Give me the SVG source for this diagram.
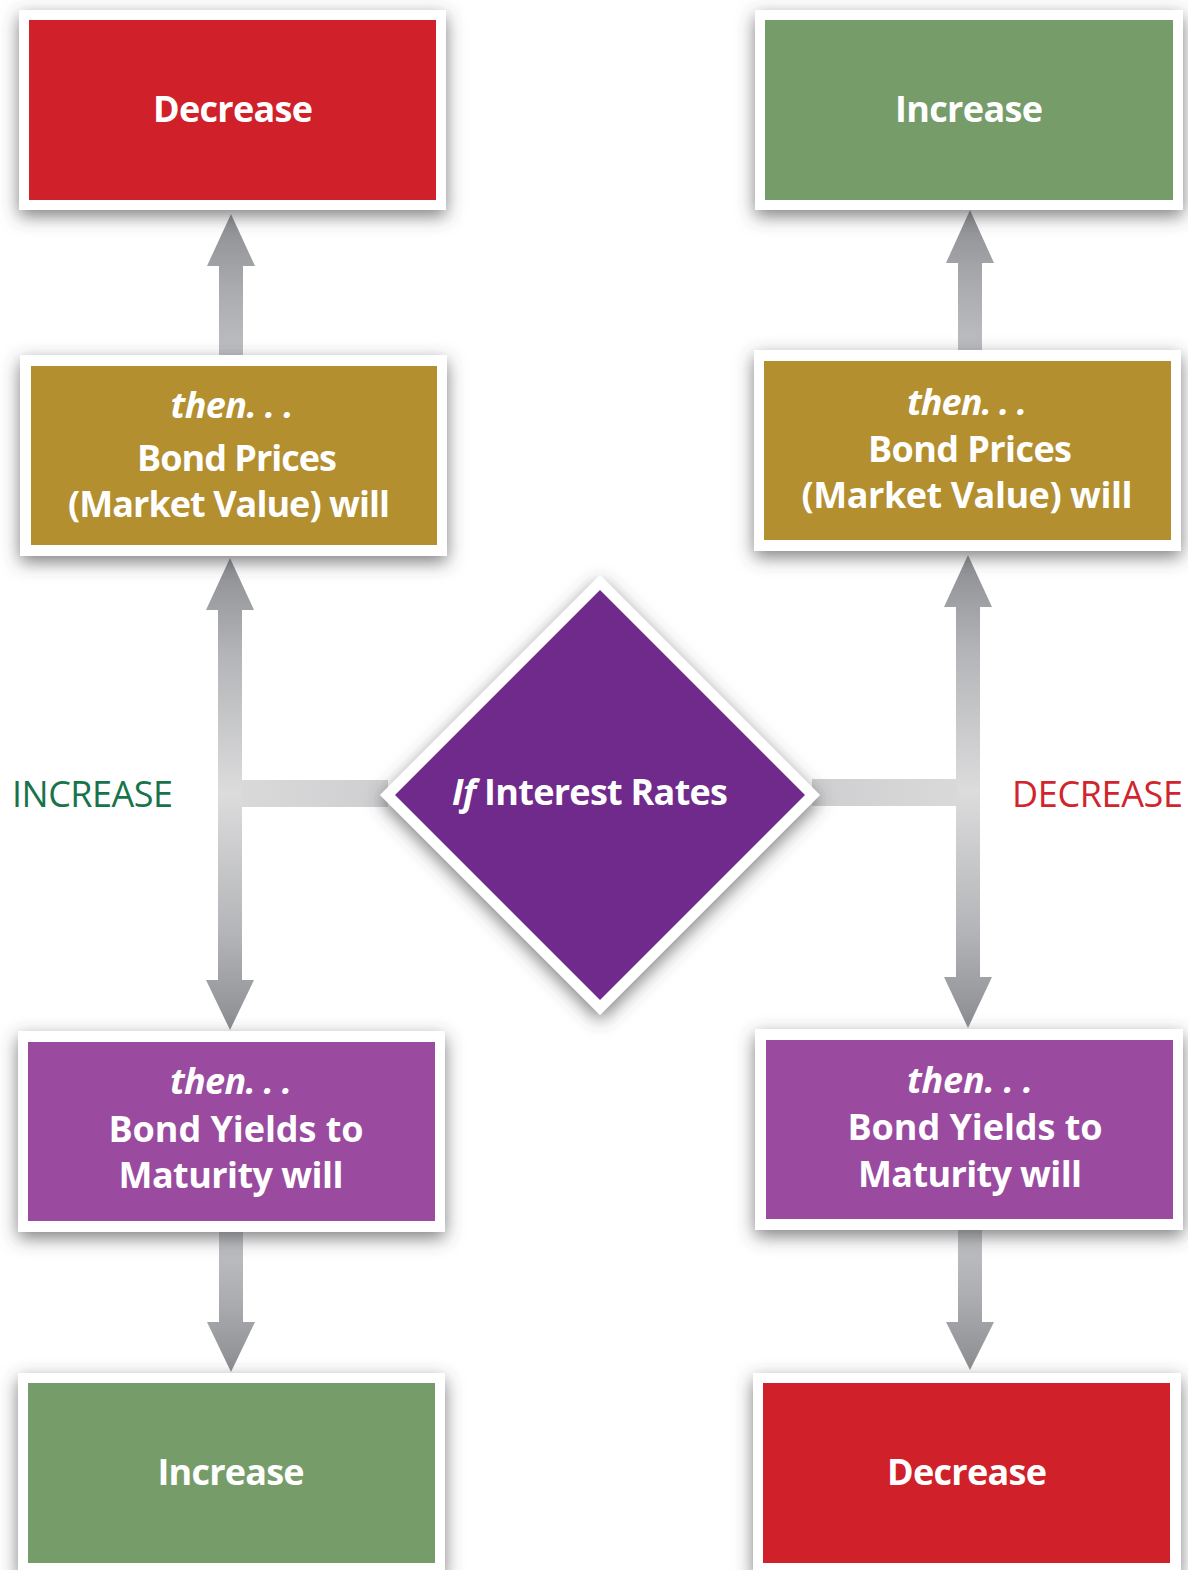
<svg xmlns="http://www.w3.org/2000/svg" width="1188" height="1570" viewBox="0 0 1188 1570">
<defs>
  <filter id="sh" x="-20%" y="-30%" width="140%" height="160%">
    <feDropShadow dx="0" dy="6" stdDeviation="9" flood-color="#45454a" flood-opacity="0.7"/>
  </filter>
  <linearGradient id="gUp" x1="0" y1="0" x2="0" y2="1">
    <stop offset="0" stop-color="#8c8d91"/>
    <stop offset="0.5" stop-color="#a9aaad"/>
    <stop offset="1" stop-color="#bfc0c3"/>
  </linearGradient>
  <linearGradient id="gDown" x1="0" y1="0" x2="0" y2="1">
    <stop offset="0" stop-color="#c3c4c6"/>
    <stop offset="0.5" stop-color="#acadb0"/>
    <stop offset="1" stop-color="#8c8d91"/>
  </linearGradient>
  <linearGradient id="gBoth" x1="0" y1="0" x2="0" y2="1">
    <stop offset="0" stop-color="#8c8d91"/>
    <stop offset="0.2" stop-color="#b3b4b7"/>
    <stop offset="0.5" stop-color="#dcdcdd"/>
    <stop offset="0.8" stop-color="#b3b4b7"/>
    <stop offset="1" stop-color="#8c8d91"/>
  </linearGradient>
  <linearGradient id="gBarL" x1="0" y1="0" x2="1" y2="0">
    <stop offset="0" stop-color="#d9d9da"/>
    <stop offset="1" stop-color="#cfcfd1"/>
  </linearGradient>
  <linearGradient id="gBarR" x1="0" y1="0" x2="1" y2="0">
    <stop offset="0" stop-color="#cfcfd1"/>
    <stop offset="1" stop-color="#d9d9da"/>
  </linearGradient>
</defs>
<style>
  .frame { fill: #ffffff; filter: url(#sh); }
  .red { fill: #d0202a; }
  .green { fill: #769d69; }
  .gold { fill: #b38f30; }
  .purple { fill: #9a4b9f; }
  .diamond { fill: #6f2a8c; }
  .t { font-family: "Open Sans", "Noto Sans", "Liberation Sans", sans-serif; font-weight: 700; fill: #ffffff; text-anchor: middle; font-size: 36px; }
  .it { font-style: italic; }
  .lbl { font-family: "Open Sans", "Noto Sans", "Liberation Sans", sans-serif; font-weight: 400; font-size: 36px; }
</style>
<rect width="1188" height="1570" fill="#ffffff"/>

<g id="connectors">
  <polygon fill="url(#gUp)" points="231,214 255,266 243,266 243,358 219,358 219,266 207,266"/>
  <polygon fill="url(#gBoth)" points="230,558 254,610 242,610 242,980 254,980 230,1030 206,980 218,980 218,610 206,610"/>
  <rect x="242" y="780" width="146" height="27" fill="url(#gBarL)"/>
  <polygon fill="url(#gDown)" points="219,1228 243,1228 243,1322 255,1322 231,1372 207,1322 219,1322"/>
  <polygon fill="url(#gUp)" points="970,210 994,263 982,263 982,353 958,353 958,263 946,263"/>
  <polygon fill="url(#gBoth)" points="968,555 992,607 980,607 980,977 992,977 968,1028 944,977 956,977 956,607 944,607"/>
  <rect x="812" y="779" width="145" height="27" fill="url(#gBarR)"/>
  <polygon fill="url(#gDown)" points="958,1226 982,1226 982,1322 994,1322 970,1370 946,1322 958,1322"/>
</g>

<g id="tl-decrease">
  <rect class="frame" x="19" y="10" width="427" height="200"/>
  <rect class="red" x="29" y="20" width="407" height="180"/>
  <text class="t" x="233" y="122" textLength="160">Decrease</text>
</g>

<g id="tr-increase">
  <rect class="frame" x="755" y="10" width="428" height="200"/>
  <rect class="green" x="765" y="20" width="408" height="180"/>
  <text class="t" x="969" y="122" textLength="148">Increase</text>
</g>

<g id="l-bond-prices">
  <rect class="frame" x="20" y="355" width="427" height="201"/>
  <rect class="gold" x="31" y="366" width="406" height="179"/>
  <text class="t it" x="232" y="418" textLength="123">then. . .</text>
  <text class="t" x="237" y="471" textLength="200">Bond Prices</text>
  <text class="t" x="229" y="517" textLength="322">(Market Value) will</text>
</g>

<g id="r-bond-prices">
  <rect class="frame" x="754" y="350" width="427" height="201"/>
  <rect class="gold" x="764" y="361" width="407" height="179"/>
  <text class="t it" x="967" y="415" textLength="120">then. . .</text>
  <text class="t" x="970" y="462" textLength="204">Bond Prices</text>
  <text class="t" x="967" y="508" textLength="331">(Market Value) will</text>
</g>

<g id="diamond-if-interest-rates">
  <polygon class="frame" points="600,575 820,795 600,1015 380,795"/>
  <polygon class="diamond" points="600,590 805,795 600,1000 395,795"/>
  <text class="t" x="590" y="805" font-size="38" textLength="276"><tspan class="it">If</tspan> Interest Rates</text>
</g>

<g id="label-increase">
  <text class="lbl" x="12" y="807" fill="#17744a" textLength="161">INCREASE</text>
</g>

<g id="label-decrease">
  <text class="lbl" x="1012" y="807" fill="#d0252c" textLength="171">DECREASE</text>
</g>

<g id="l-bond-yields">
  <rect class="frame" x="18" y="1031" width="427" height="201"/>
  <rect class="purple" x="28" y="1042" width="407" height="179"/>
  <text class="t it" x="231" y="1094" textLength="122">then. . .</text>
  <text class="t" x="236" y="1142" textLength="255">Bond Yields to</text>
  <text class="t" x="231" y="1188" textLength="225">Maturity will</text>
</g>

<g id="r-bond-yields">
  <rect class="frame" x="755" y="1029" width="428" height="201"/>
  <rect class="purple" x="766" y="1040" width="407" height="179"/>
  <text class="t it" x="970" y="1093" textLength="126">then. . .</text>
  <text class="t" x="975" y="1140" textLength="255">Bond Yields to</text>
  <text class="t" x="970" y="1187" textLength="224">Maturity will</text>
</g>

<g id="bl-increase">
  <rect class="frame" x="18" y="1373" width="427" height="202"/>
  <rect class="green" x="28" y="1383" width="407" height="180"/>
  <text class="t" x="231" y="1485" textLength="147">Increase</text>
</g>

<g id="br-decrease">
  <rect class="frame" x="753" y="1373" width="428" height="202"/>
  <rect class="red" x="763" y="1383" width="407" height="180"/>
  <text class="t" x="967" y="1485" textLength="160">Decrease</text>
</g>
</svg>
